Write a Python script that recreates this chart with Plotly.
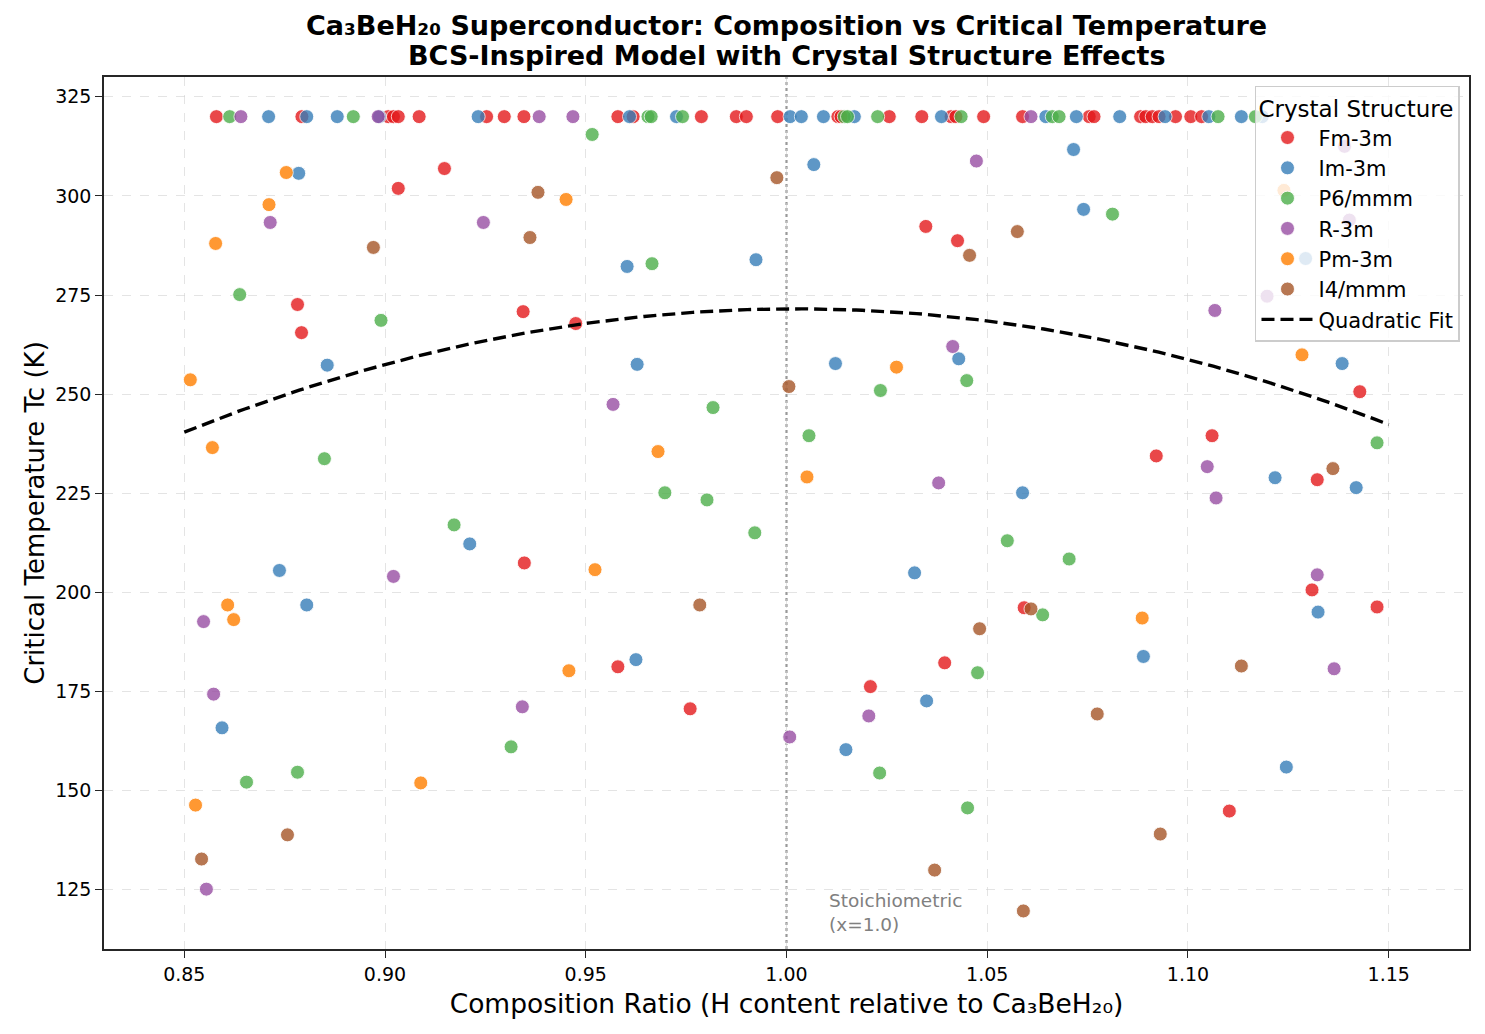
import numpy as np
import plotly.graph_objects as go

structures = ["Fm-3m", "Im-3m", "P6/mmm", "R-3m", "Pm-3m", "I4/mmm"]
colors = ["#e41a1c", "#377eb8", "#4daf4a", "#984ea3", "#ff7f00", "#a65628"]

# Points capped at Tc = 320 K (top row)
cap_tc = 320
fm_top = [0.858, 0.8793, 0.9008, 0.9021, 0.9033, 0.9085, 0.9253, 0.9297, 0.9346, 0.958, 0.9618,
          0.9788, 0.9875, 0.99, 0.9978, 1.0128, 1.0136, 1.0256, 1.0337, 1.041, 1.0422, 1.0491,
          1.0588, 1.0754, 1.0766, 1.0882, 1.0895, 1.0911, 1.0928, 1.0969, 1.1007, 1.1034]
im_top = [0.871, 0.8805, 0.8881, 0.8986, 0.9232, 0.9609, 0.9726, 1.0009, 1.0037, 1.0092, 1.0169,
          1.0386, 1.0646, 1.0722, 1.083, 1.0943, 1.1052, 1.1133, 1.1185]
p6_top = [0.8613, 0.8921, 0.9655, 0.9663, 0.9741, 1.0144, 1.0152, 1.0227, 1.0435, 1.0662, 1.0679,
          1.1075, 1.1168]
r3_top = [0.8641, 0.8983, 0.9384, 0.9468, 1.0609]
pm_top = []
i4_top = []

fm_x = [0.9148, 0.9033, 0.8782, 0.9344, 0.8792, 1.0347, 1.0426, 0.9475, 0.9347, 1.1428, 1.106,
        1.0921, 1.1322, 1.1309, 1.0592, 1.1471, 0.958, 0.976, 1.0394, 1.0209, 1.1103]
fm_tc = [306.9, 301.9, 272.6, 270.8, 265.5, 292.3, 288.7, 267.8, 207.4, 250.6, 239.5,
         234.4, 228.4, 200.6, 196.1, 196.3, 181.2, 170.6, 182.2, 176.2, 144.8]

im_x = [0.8785, 0.8856, 1.0068, 0.9603, 0.9924, 1.0429, 0.9628, 1.0122, 1.0715, 1.074, 1.1293,
        1.1384, 0.9211, 0.8737, 0.8805, 1.0319, 1.1217, 1.1419, 1.0588, 1.1324, 1.0889, 0.8594,
        0.9625, 1.0349, 1.0148, 1.1245]
im_tc = [305.7, 257.3, 307.9, 282.2, 283.9, 258.9, 257.5, 257.7, 311.7, 296.6, 284.2,
         257.7, 212.2, 205.5, 196.8, 204.9, 228.9, 226.4, 225.1, 195.0, 183.8, 165.8,
         183.0, 172.6, 160.3, 155.9]

p6_x = [0.9516, 0.8638, 0.899, 0.9665, 1.0812, 0.8849, 0.9172, 1.0234, 1.0449, 0.9817, 1.0056,
        0.9697, 0.9802, 0.9921, 1.1471, 1.055, 1.0704, 1.0638, 0.8782, 0.8655, 0.9314, 1.0476,
        1.0232, 1.0451]
p6_tc = [315.5, 275.1, 268.6, 282.9, 295.4, 233.7, 217.0, 250.9, 253.4, 246.6, 239.5,
         225.1, 223.3, 215.0, 237.7, 213.0, 208.4, 194.3, 154.6, 152.1, 161.0, 179.7,
         154.4, 145.6]

r3_x = [0.8714, 0.9245, 1.0473, 1.0414, 1.139, 1.1402, 1.1197, 1.1067, 0.9021, 0.8548, 0.9568,
        1.0379, 1.1048, 1.107, 1.1322, 0.8573, 0.8555, 0.9342, 1.0205, 1.0008, 1.1364]
r3_tc = [293.3, 293.3, 308.8, 262.0, 312.5, 293.9, 274.7, 271.1, 204.0, 192.6, 247.4,
         227.6, 231.7, 223.8, 204.4, 174.3, 125.1, 171.1, 168.8, 163.5, 180.7]

pm_x = [0.8754, 0.8711, 0.8578, 0.9451, 1.0274, 1.1239, 1.1284, 0.8515, 0.857, 0.8608, 0.8623,
        0.968, 1.0051, 0.9523, 1.0886, 0.9458, 0.9089, 0.8528]
pm_tc = [305.9, 297.8, 288.0, 299.1, 256.8, 301.4, 259.9, 253.6, 236.5, 196.8, 193.1,
         235.5, 229.1, 205.7, 193.5, 180.2, 151.9, 146.3]

i4_x = [0.9381, 0.9361, 0.8971, 0.9976, 1.0456, 1.0575, 1.0006, 1.1361, 0.9784, 1.0481, 1.0609,
        1.1133, 1.0774, 1.0931, 1.059, 0.8757, 0.8543, 1.0369]
i4_tc = [300.9, 289.5, 287.0, 304.6, 285.0, 291.0, 251.9, 231.2, 196.8, 190.8, 195.8,
         181.4, 169.3, 139.0, 119.6, 138.8, 132.7, 129.9]

# Quadratic fit coefficients: Tc = a*x^2 + b*x + c
fit_coeffs = [-1340.0, 2686.4, -1074.9]
fit_range = [0.85, 1.15]

series = [
    (fm_x + fm_top, fm_tc + [cap_tc] * len(fm_top)),
    (im_x + im_top, im_tc + [cap_tc] * len(im_top)),
    (p6_x + p6_top, p6_tc + [cap_tc] * len(p6_top)),
    (r3_x + r3_top, r3_tc + [cap_tc] * len(r3_top)),
    (pm_x + pm_top, pm_tc + [cap_tc] * len(pm_top)),
    (i4_x + i4_top, i4_tc + [cap_tc] * len(i4_top)),
]

FONT = "DejaVu Sans"
fig = go.Figure()
for name, col, (xs, ys) in zip(structures, colors, series):
    fig.add_trace(go.Scatter(
        x=xs, y=ys, mode="markers", name=name,
        marker=dict(color=col, size=14, opacity=0.8, line=dict(color="white", width=0.9)),
    ))

xf = np.linspace(fit_range[0], fit_range[1], 200)
yf = np.polyval(fit_coeffs, xf)
fig.add_trace(go.Scatter(x=xf, y=yf, mode="lines", name="Quadratic Fit",
                         line=dict(color="black", width=3.4, dash="13px,6px")))

fig.add_shape(type="line", x0=1.0, x1=1.0, xref="x", y0=0, y1=1, yref="paper",
              line=dict(color="rgba(128,128,128,0.8)", width=2.2, dash="dot"), layer="below")

fig.add_annotation(x=1.01, y=113, xref="x", yref="y", text="Stoichiometric<br>(x=1.0)",
                   showarrow=False, xanchor="left", yanchor="bottom", align="left",
                   font=dict(family=FONT, size=18.5, color="#808080"))

# Title (two bold lines)
fig.add_annotation(x=0.5, y=1.0596, xref="paper", yref="paper", showarrow=False,
                   xanchor="center", yanchor="middle",
                   text="<b>Ca₃BeH₂₀ Superconductor: Composition vs Critical Temperature</b>",
                   font=dict(family=FONT, size=27, color="black"))
fig.add_annotation(x=0.5, y=1.0252, xref="paper", yref="paper", showarrow=False,
                   xanchor="center", yanchor="middle",
                   text="<b>BCS-Inspired Model with Crystal Structure Effects</b>",
                   font=dict(family=FONT, size=27, color="black"))

axis_common = dict(
    showline=True, linecolor="#262626", linewidth=1.6, mirror=True,
    ticks="outside", ticklen=7, tickwidth=1.4, tickcolor="#262626",
    showgrid=True, gridcolor="rgba(210,210,210,0.6)", gridwidth=1, griddash="dash",
    zeroline=False, tickfont=dict(family=FONT, size=19, color="black"),
)

fig.update_layout(
    width=1485, height=1034,
    margin=dict(l=104, r=16, t=77, b=85),
    plot_bgcolor="white", paper_bgcolor="white",
    font=dict(family=FONT, color="black"),
    xaxis=dict(axis_common, range=[0.83, 1.17], tickvals=[0.85, 0.90, 0.95, 1.00, 1.05, 1.10, 1.15],
               ticktext=["0.85", "0.90", "0.95", "1.00", "1.05", "1.10", "1.15"],
               title=dict(text="Composition Ratio (H content relative to Ca₃BeH₂₀)",
                          font=dict(family=FONT, size=26.5), standoff=11)),
    yaxis=dict(axis_common, range=[110, 330], tickvals=[125, 150, 175, 200, 225, 250, 275, 300, 325],
               title=dict(text="Critical Temperature Tc (K)", font=dict(family=FONT, size=26), standoff=3)),
    legend=dict(
        x=0.9934, xanchor="right", y=0.9897, yanchor="top",
        bgcolor="rgba(255,255,255,0.8)", bordercolor="#cccccc", borderwidth=1.5,
        font=dict(family=FONT, size=21, color="black"),
        title=dict(text="Crystal Structure", font=dict(family=FONT, size=23, color="black")),
        itemwidth=52,
    ),
)

fig.write_html("out.html")
